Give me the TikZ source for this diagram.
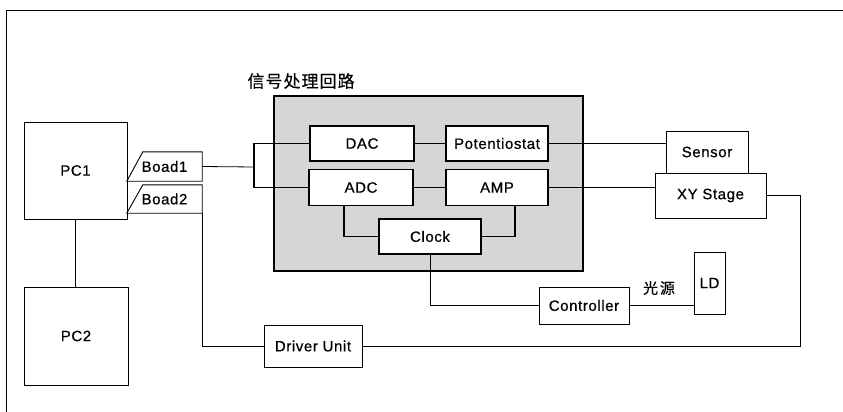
\documentclass[tikz,border=0pt]{standalone}
\usepackage{fontspec}
\setmainfont{Liberation Sans}[LetterSpace=4,FakeBold=0.6]
\newfontfamily\cjk{Noto Sans CJK SC}[LetterSpace=12,FakeBold=0.4]
\newfontfamily\cjkhead{Noto Sans CJK SC}[LetterSpace=6,FakeBold=0.4]
\tikzset{
  box/.style={draw,line width=.9pt,fill=white,inner sep=0pt},
  inbox/.style={box,line width=1.3pt},
  board/.style={inner sep=0pt,minimum width=75pt},
  wire/.style={line width=.8pt},
  bus/.style={line width=1.6pt}
}
\begin{document}
\begin{tikzpicture}[x=1pt,y=-1pt,font=\fontsize{15}{17}\selectfont]
			\useasboundingbox (0,0) rectangle (843,412);
			% Rahmen
			\draw[line width=1pt] (843,10.5) -- (6,10.5) -- (6,412);
			% Signalverarbeitung
			\node[draw,line width=1.4pt,fill=gray!32,minimum width=309pt,minimum height=175pt] (spc) at (428.5,183.5) {};
			\node[anchor=west,font=\cjkhead\fontsize{17}{19}\selectfont] (title) at (244,81) {信号处理回路};
			\node[inbox,minimum width=104pt,minimum height=35pt] (dac) at (362,143.5) {DAC};
			\node[inbox,minimum width=102pt,minimum height=35pt] (pot) at (497,143.5) {Potentiostat};
			\node[inbox,minimum width=104pt,minimum height=36pt] (adc) at (361,187.5) {ADC};
			\node[inbox,minimum width=102pt,minimum height=36pt] (amp) at (497,187.5) {AMP};
			\node[inbox,minimum width=102pt,minimum height=35pt] (clock) at (430,236.5) {Clock};
			% Rechner
			\node[box,minimum width=103pt,minimum height=97pt] (pc1) at (75.5,170.5) {PC1};
			\node[box,minimum width=104pt,minimum height=98pt] (pc2) at (76,336) {PC2};
			\node[board,minimum height=29pt] (boad1) at (164.5,166.5) {Boad1};
			\node[board,minimum height=28pt] (boad2) at (164.5,199) {Boad2};
			\draw[line width=.9pt] (boad1.south west) -- ([xshift=16pt]boad1.north west) -- (boad1.north east) -- (boad1.south east) -- cycle;
			\draw[line width=.9pt] (boad2.south west) -- ([xshift=16pt]boad2.north west) -- (boad2.north east) -- (boad2.south east) -- cycle;
			% Peripherie
			\node[box,minimum width=82pt,minimum height=42pt] (sensor) at (707,152) {Sensor};
			\node[box,minimum width=111pt,minimum height=45pt] (xy) at (710.5,195.5) {XY Stage};
			\node[box,minimum width=90pt,minimum height=37pt] (ctrl) at (584,305.5) {Controller};
			\node[box,minimum width=31pt,minimum height=62pt] (ld) at (709.5,283) {LD};
			\node[box,minimum width=98pt,minimum height=42pt] (drv) at (313,346) {Driver Unit};
			\node[font=\cjk\fontsize{15}{17}\selectfont] (light) at (659,288) {光源};
			\coordinate (fork) at (254,167);
			\coordinate (rt) at (800,346);
			% Leitungen
			\draw[wire] (pc1.south) -- (pc1.south |- pc2.north);
			\draw[wire] (boad1.east) -- (fork);
			\draw[bus] (dac.west) -| (fork) |- (adc.west);
			\draw[bus] (dac) -- (pot);
			\draw[bus] (adc) -- (amp);
			\draw[bus] ([xshift=-17pt]adc.south) |- (clock.west);
			\draw[bus] ([xshift=18pt]amp.south) |- (clock.east);
			\draw[wire] (pot.east) -- (pot.east -| sensor.west);
			\draw[wire] (amp.east) -- (amp.east -| xy.west);
			\draw[wire] (xy.east) -| (rt) -- (drv.east);
			\draw[wire] (boad2.south east) |- (drv.west);
			\draw[wire] (clock.south) |- (ctrl.west);
			\draw[wire] (ctrl.east) -- (ctrl.east -| ld.west);
		\end{tikzpicture}
\end{document}
